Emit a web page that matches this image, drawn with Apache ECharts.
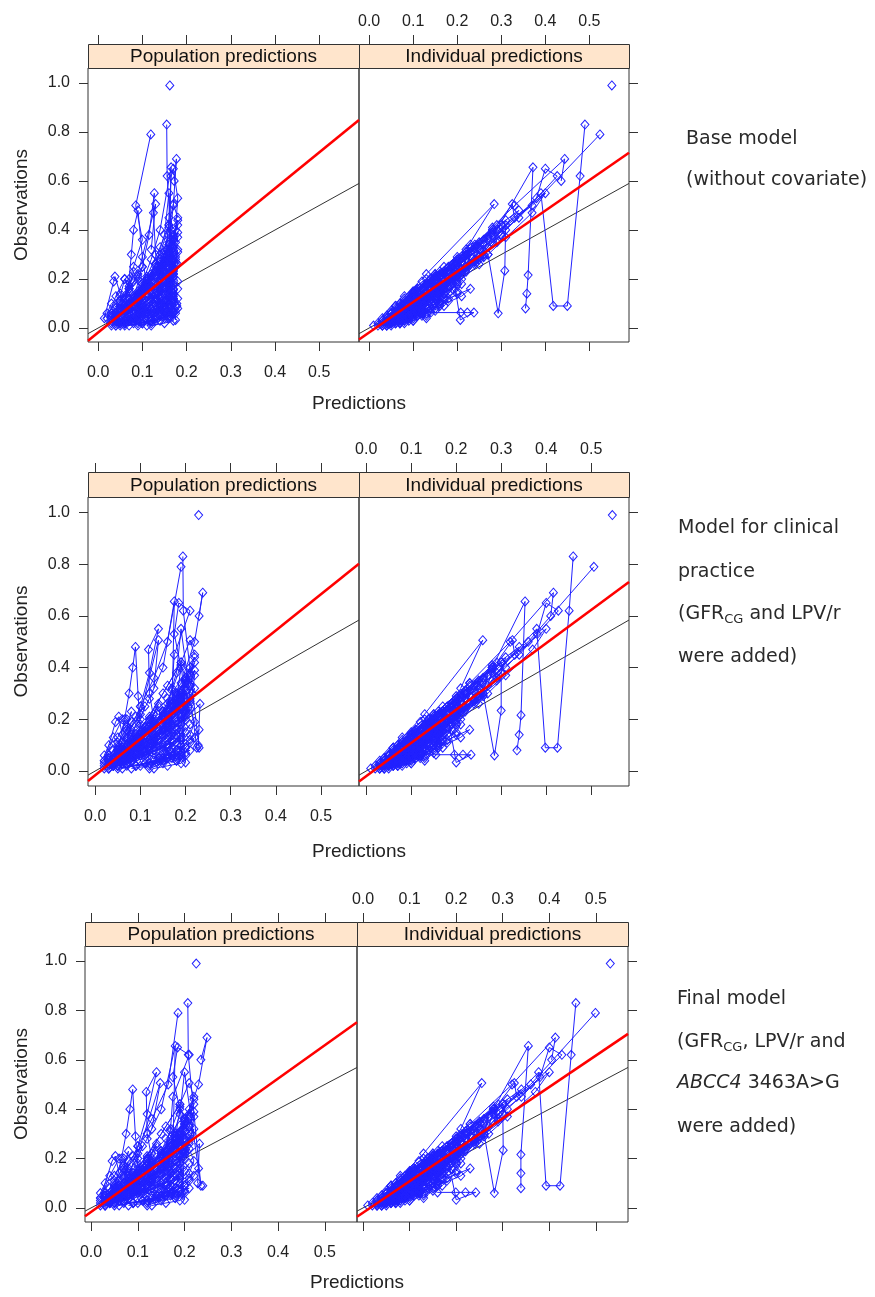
<!DOCTYPE html>
<html><head><meta charset="utf-8">
<script src="https://cdn.jsdelivr.net/npm/echarts@6/dist/echarts.min.js"></script>
<style>html,body{margin:0;padding:0;background:#fff}#c{width:875px;height:1297px}</style>
</head><body><div id="c"></div>
<script>
// ---------------- DATA ----------------
const PANEL_TITLES = ['Population predictions', 'Individual predictions'];
const X_TICKS = [0, 0.1, 0.2, 0.3, 0.4, 0.5];
const Y_TICKS = [0, 0.2, 0.4, 0.6, 0.8, 1.0];
const X_TITLE = 'Predictions';
const Y_TITLE = 'Observations';

// Observations per subject (shared by all models); featured subjects
const FEAT_OBS = [
  [0.99],
  [0.16,0.26,0.38,0.55,0.09,0.09,0.62,0.83],
  [0.13,0.25,0.36,0.50,0.79],
  [0.12,0.22,0.34,0.50,0.69,0.60],
  [0.14,0.28,0.40,0.656,0.216,0.14,0.08],
  [0.09,0.22,0.506,0.32],
  [0.07,0.16,0.30,0.42,0.234,0.06,0.30],
  [0.06,0.12,0.063,0.063,0.063,0.063,0.033,0.22]
];
const FEAT_IPRED_BASE = [
  [0.551],
  [0.12,0.20,0.30,0.39,0.418,0.45,0.479,0.49],
  [0.10,0.18,0.27,0.37,0.524],
  [0.08,0.15,0.24,0.33,0.444,0.436],
  [0.10,0.20,0.29,0.372,0.361,0.358,0.355],
  [0.06,0.13,0.284,0.22],
  [0.05,0.12,0.22,0.31,0.308,0.293,0.27],
  [0.05,0.10,0.14,0.208,0.223,0.238,0.207,0.19]
];
const FEAT_IPRED_CLIN = [
  [0.547],
  [0.12,0.20,0.29,0.379,0.398,0.425,0.451,0.46],
  [0.10,0.18,0.26,0.36,0.506],
  [0.08,0.15,0.23,0.32,0.416,0.41],
  [0.10,0.20,0.28,0.353,0.344,0.34,0.335],
  [0.06,0.13,0.259,0.21],
  [0.05,0.12,0.21,0.30,0.300,0.285,0.26],
  [0.05,0.10,0.155,0.196,0.215,0.233,0.20,0.18]
];
const FEAT_IPRED_FINAL = [
  [0.531],
  [0.12,0.20,0.29,0.377,0.393,0.423,0.447,0.457],
  [0.10,0.18,0.26,0.36,0.499],
  [0.08,0.15,0.23,0.32,0.413,0.405],
  [0.10,0.20,0.28,0.355,0.339,0.339,0.339],
  [0.06,0.13,0.255,0.21],
  [0.05,0.12,0.21,0.30,0.301,0.282,0.26],
  [0.05,0.10,0.16,0.199,0.22,0.242,0.20,0.18]
];
const FEAT_PRED_BASE = [
  [0.162],
  [0.10,0.13,0.15,0.16,0.175,0.178,0.156,0.155],
  [0.06,0.08,0.10,0.085,0.119],
  [0.12,0.14,0.16,0.17,0.177,0.172],
  [0.09,0.12,0.14,0.165,0.16,0.158,0.155],
  [0.05,0.09,0.13,0.12],
  [0.06,0.10,0.14,0.16,0.17,0.165,0.16],
  [0.06,0.09,0.12,0.15,0.16,0.17,0.175,0.17]
];
const FEAT_PRED_CLIN = [
  [0.229],
  [0.12,0.16,0.18,0.19,0.225,0.23,0.195,0.194],
  [0.07,0.10,0.13,0.16,0.19],
  [0.10,0.15,0.19,0.22,0.238,0.23],
  [0.08,0.12,0.15,0.175,0.17,0.168,0.165],
  [0.05,0.10,0.14,0.13],
  [0.05,0.10,0.15,0.19,0.20,0.19,0.18],
  [0.05,0.09,0.13,0.16,0.18,0.19,0.20,0.19]
];
const FEAT_PRED_FINAL = [
  [0.225],
  [0.12,0.17,0.19,0.20,0.235,0.239,0.208,0.207],
  [0.07,0.10,0.13,0.165,0.186],
  [0.10,0.15,0.20,0.23,0.248,0.235],
  [0.08,0.12,0.15,0.18,0.175,0.17,0.168],
  [0.05,0.10,0.148,0.13],
  [0.05,0.10,0.15,0.19,0.20,0.195,0.185],
  [0.05,0.09,0.13,0.16,0.18,0.19,0.20,0.19]
];

// Bulk of subjects
const BULK_OBS = [
  [0.04,0.19,0.21,0.14,0.10,0.06],
  [0.08,0.20,0.30,0.40,0.48,0.29,0.17],
  [0.12,0.25,0.38,0.55,0.47,0.30,0.20],
  [0.18,0.32,0.45,0.62,0.65,0.53,0.40,0.28],
  [0.10,0.21,0.33,0.42,0.506,0.45],
  [0.12,0.20,0.26,0.10],
  [0.03,0.08,0.15,0.22,0.19,0.14,0.09,0.05],
  [0.02,0.06,0.10,0.12,0.11,0.08,0.05,0.02],
  [0.05,0.14,0.26,0.33,0.29,0.21,0.15,0.09],
  [0.01,0.03,0.07,0.09,0.08,0.06,0.03,0.01],
  [0.08,0.18,0.31,0.42,0.37,0.27,0.19,0.12],
  [0.04,0.10,0.17,0.20,0.24,0.16,0.11,0.07,0.04],
  [0.12,0.21,0.29,0.36,0.44,0.38,0.30,0.23],
  [0.02,0.05,0.09,0.13,0.16,0.12,0.08,0.05,0.03],
  [0.06,0.13,0.21,0.27,0.23,0.17,0.12],
  [0.03,0.07,0.12,0.18,0.31,0.25,0.19,0.11,0.06],
  [0.01,0.02,0.04,0.06,0.05,0.03,0.02],
  [0.10,0.20,0.28,0.40,0.35,0.26,0.18,0.13],
  [0.04,0.09,0.14,0.19,0.17,0.13,0.10,0.07,0.05],
  [0.07,0.15,0.24,0.30,0.26,0.20,0.14,0.09],
  [0.02,0.04,0.08,0.11,0.14,0.10,0.06,0.03],
  [0.15,0.25,0.34,0.39,0.33,0.27,0.22],
  [0.03,0.06,0.11,0.16,0.21,0.18,0.12,0.08,0.05],
  [0.05,0.11,0.19,0.25,0.20,0.15,0.11,0.08],
  [0.01,0.03,0.05,0.08,0.07,0.04,0.02],
  [0.09,0.16,0.22,0.29,0.35,0.28,0.20,0.14,0.10],
  [0.03,0.08,0.13,0.10,0.07,0.04,0.02],
  [0.06,0.12,0.18,0.23,0.27,0.22,0.16,0.11,0.07],
  [0.02,0.05,0.11,0.17,0.14,0.09,0.06,0.03],
  [0.06,0.15,0.23,0.19,0.27,0.21,0.13,0.08,0.04],
  [0.01,0.02,0.05,0.04,0.07,0.05,0.03,0.02],
  [0.09,0.17,0.25,0.31,0.26,0.18,0.12,0.08],
  [0.03,0.10,0.13,0.09,0.12,0.08,0.05,0.02],
  [0.14,0.22,0.27,0.33,0.37,0.30,0.24,0.19,0.15],
  [0.02,0.04,0.06,0.10,0.08,0.05,0.03],
  [0.05,0.08,0.16,0.21,0.18,0.11,0.07,0.04],
  [0.11,0.19,0.26,0.34,0.29,0.23,0.17,0.12],
  [0.01,0.03,0.04,0.06,0.03,0.02,0.01],
  [0.04,0.13,0.20,0.16,0.23,0.17,0.10,0.06],
  [0.07,0.12,0.17,0.24,0.29,0.22,0.16,0.11,0.08],
  [0.02,0.06,0.09,0.14,0.11,0.07,0.04],
  [0.10,0.16,0.24,0.19,0.14,0.10,0.07,0.05],
  [0.03,0.07,0.12,0.20,0.25,0.19,0.13,0.08,0.05],
  [0.05,0.09,0.14,0.18,0.15,0.11,0.07],
  [0.16,0.23,0.31,0.41,0.36,0.28,0.20],
  [0.01,0.02,0.03,0.05,0.04,0.02,0.01],
  [0.08,0.14,0.19,0.26,0.22,0.17,0.12,0.09],
  [0.04,0.11,0.17,0.22,0.28,0.24,0.15,0.10,0.06],
  [0.02,0.07,0.05,0.09,0.13,0.10,0.06,0.03],
  [0.12,0.18,0.23,0.28,0.32,0.27,0.21,0.16],
  [0.03,0.06,0.10,0.15,0.12,0.08,0.05,0.03],
  [0.06,0.10,0.13,0.20,0.16,0.12,0.09,0.06],
  [0.03,0.05,0.08,0.11,0.09,0.06,0.04],
  [0.05,0.08,0.12,0.16,0.13,0.09,0.06]
];
const BULK_IPRED = [
  [0.04,0.12,0.16,0.13,0.11,0.09],
  [0.07,0.14,0.22,0.28,0.34,0.25,0.16],
  [0.10,0.19,0.28,0.40,0.37,0.27,0.19],
  [0.14,0.25,0.34,0.427,0.40,0.38,0.31,0.24],
  [0.07,0.15,0.23,0.29,0.325,0.33],
  [0.11,0.18,0.23,0.16],
  [0.05,0.09,0.11,0.16,0.18,0.15,0.11,0.08],
  [0.04,0.08,0.12,0.15,0.13,0.11,0.08,0.06],
  [0.04,0.10,0.19,0.25,0.26,0.20,0.15,0.10],
  [0.03,0.06,0.09,0.13,0.12,0.10,0.07,0.04],
  [0.08,0.13,0.22,0.30,0.31,0.24,0.18,0.13],
  [0.05,0.07,0.13,0.18,0.20,0.17,0.12,0.08,0.05],
  [0.11,0.16,0.21,0.26,0.31,0.30,0.26,0.21],
  [0.03,0.07,0.11,0.16,0.19,0.17,0.13,0.09,0.06],
  [0.05,0.09,0.15,0.20,0.21,0.17,0.13],
  [0.04,0.08,0.13,0.19,0.23,0.22,0.18,0.13,0.08],
  [0.04,0.07,0.10,0.12,0.11,0.08,0.05],
  [0.08,0.14,0.20,0.28,0.29,0.23,0.17,0.13],
  [0.03,0.06,0.10,0.14,0.15,0.13,0.11,0.08,0.06],
  [0.07,0.13,0.21,0.26,0.25,0.21,0.16,0.11],
  [0.02,0.05,0.09,0.14,0.17,0.15,0.11,0.07],
  [0.11,0.17,0.23,0.28,0.27,0.24,0.20],
  [0.03,0.05,0.08,0.12,0.16,0.16,0.13,0.09,0.06],
  [0.06,0.11,0.17,0.22,0.20,0.16,0.12,0.09],
  [0.02,0.04,0.07,0.10,0.11,0.09,0.06],
  [0.06,0.11,0.15,0.20,0.25,0.24,0.19,0.14,0.10],
  [0.04,0.09,0.14,0.14,0.11,0.08,0.05],
  [0.05,0.09,0.13,0.17,0.21,0.20,0.16,0.12,0.08],
  [0.05,0.09,0.13,0.18,0.20,0.16,0.12,0.08],
  [0.06,0.10,0.16,0.18,0.21,0.19,0.14,0.10,0.07],
  [0.05,0.08,0.11,0.13,0.15,0.13,0.10,0.07],
  [0.09,0.15,0.19,0.24,0.24,0.20,0.15,0.10],
  [0.05,0.08,0.12,0.12,0.14,0.11,0.08,0.05],
  [0.12,0.17,0.21,0.24,0.27,0.26,0.22,0.18,0.15],
  [0.06,0.09,0.12,0.16,0.15,0.12,0.09],
  [0.04,0.07,0.11,0.15,0.16,0.13,0.09,0.06],
  [0.10,0.15,0.20,0.26,0.26,0.22,0.17,0.13],
  [0.03,0.06,0.09,0.12,0.10,0.07,0.04],
  [0.04,0.08,0.13,0.15,0.17,0.16,0.11,0.07],
  [0.08,0.11,0.15,0.19,0.23,0.21,0.17,0.13,0.10],
  [0.04,0.08,0.12,0.16,0.16,0.12,0.08],
  [0.09,0.14,0.19,0.20,0.18,0.15,0.12,0.09],
  [0.03,0.06,0.10,0.15,0.19,0.18,0.14,0.10,0.06],
  [0.07,0.11,0.16,0.21,0.20,0.16,0.12],
  [0.12,0.17,0.22,0.28,0.29,0.25,0.19],
  [0.01,0.03,0.05,0.07,0.07,0.05,0.03],
  [0.06,0.10,0.14,0.19,0.20,0.17,0.13,0.10],
  [0.05,0.09,0.14,0.18,0.22,0.21,0.16,0.11,0.07],
  [0.04,0.07,0.09,0.12,0.15,0.14,0.10,0.06],
  [0.10,0.14,0.18,0.22,0.25,0.24,0.20,0.16],
  [0.05,0.08,0.12,0.17,0.16,0.12,0.09,0.06],
  [0.05,0.08,0.11,0.15,0.15,0.12,0.09,0.06],
  [0.07,0.10,0.14,0.18,0.17,0.13,0.09],
  [0.09,0.13,0.18,0.23,0.21,0.16,0.12]
];
const BULK_PRED_BASE = [
  [0.014,0.035,0.038,0.05,0.07,0.09],
  [0.06,0.07,0.075,0.08,0.09,0.10,0.11],
  [0.08,0.10,0.115,0.127,0.125,0.13,0.14],
  [0.14,0.155,0.16,0.165,0.17,0.18,0.175,0.17],
  [0.07,0.11,0.14,0.16,0.17,0.18],
  [0.13,0.16,0.175,0.178],
  [0.04,0.09,0.14,0.17,0.16,0.13,0.10,0.06],
  [0.05,0.11,0.16,0.18,0.17,0.14,0.10,0.06],
  [0.04,0.10,0.15,0.17,0.16,0.13,0.09,0.06],
  [0.04,0.09,0.14,0.16,0.15,0.12,0.08,0.05],
  [0.05,0.11,0.16,0.18,0.17,0.14,0.11,0.07],
  [0.03,0.07,0.12,0.15,0.17,0.14,0.10,0.07,0.04],
  [0.09,0.13,0.15,0.17,0.18,0.17,0.15,0.13],
  [0.06,0.10,0.14,0.16,0.17,0.15,0.12,0.09,0.06],
  [0.04,0.08,0.12,0.15,0.14,0.11,0.08],
  [0.05,0.09,0.13,0.16,0.18,0.17,0.15,0.11,0.07],
  [0.06,0.10,0.15,0.17,0.16,0.12,0.08],
  [0.07,0.11,0.14,0.165,0.16,0.14,0.11,0.08],
  [0.03,0.06,0.09,0.12,0.11,0.09,0.07,0.05,0.04],
  [0.06,0.10,0.14,0.16,0.15,0.12,0.09,0.07],
  [0.04,0.08,0.12,0.15,0.17,0.14,0.10,0.06],
  [0.10,0.14,0.17,0.18,0.17,0.15,0.13],
  [0.05,0.08,0.12,0.15,0.17,0.16,0.13,0.10,0.07],
  [0.03,0.05,0.08,0.10,0.09,0.07,0.05,0.04],
  [0.07,0.12,0.16,0.18,0.17,0.13,0.09],
  [0.08,0.11,0.14,0.16,0.175,0.16,0.14,0.11,0.09],
  [0.03,0.06,0.09,0.08,0.06,0.04,0.03],
  [0.04,0.07,0.10,0.13,0.15,0.14,0.12,0.09,0.06],
  [0.05,0.09,0.13,0.16,0.17,0.15,0.11,0.07],
  [0.08,0.12,0.15,0.16,0.17,0.165,0.14,0.11,0.08],
  [0.09,0.12,0.15,0.16,0.175,0.16,0.13,0.10],
  [0.11,0.14,0.16,0.17,0.18,0.16,0.14,0.12],
  [0.04,0.08,0.11,0.13,0.14,0.12,0.09,0.06],
  [0.13,0.15,0.16,0.17,0.18,0.175,0.16,0.15,0.14],
  [0.10,0.13,0.15,0.17,0.16,0.14,0.12],
  [0.03,0.05,0.07,0.09,0.10,0.08,0.06,0.04],
  [0.12,0.14,0.15,0.16,0.155,0.15,0.14,0.13],
  [0.11,0.14,0.16,0.175,0.17,0.15,0.12],
  [0.02,0.04,0.06,0.07,0.08,0.07,0.05,0.03],
  [0.10,0.13,0.15,0.165,0.175,0.17,0.15,0.13,0.11],
  [0.05,0.08,0.10,0.12,0.13,0.11,0.08],
  [0.14,0.16,0.17,0.18,0.17,0.16,0.15,0.14],
  [0.04,0.06,0.09,0.11,0.13,0.12,0.10,0.07,0.05],
  [0.12,0.14,0.16,0.17,0.165,0.15,0.13],
  [0.11,0.13,0.15,0.16,0.17,0.16,0.14],
  [0.03,0.05,0.07,0.09,0.08,0.06,0.04],
  [0.07,0.09,0.11,0.13,0.12,0.10,0.08,0.07],
  [0.06,0.09,0.12,0.15,0.17,0.16,0.13,0.10,0.07],
  [0.06,0.10,0.13,0.15,0.16,0.14,0.10,0.07],
  [0.15,0.16,0.17,0.175,0.18,0.175,0.17,0.16],
  [0.07,0.11,0.14,0.16,0.17,0.14,0.11,0.08],
  [0.02,0.03,0.05,0.06,0.07,0.06,0.04,0.03],
  [0.10,0.13,0.15,0.17,0.16,0.14,0.12],
  [0.12,0.15,0.17,0.18,0.17,0.16,0.14]
];
// covariate models (clinical practice & final) give near-identical population predictions for the bulk
const BULK_PRED_COV = [
  [0.02,0.045,0.052,0.06,0.08,0.10],
  [0.05,0.065,0.075,0.083,0.089,0.095,0.10],
  [0.08,0.10,0.12,0.14,0.118,0.12,0.13],
  [0.15,0.17,0.175,0.21,0.185,0.175,0.19,0.18],
  [0.07,0.12,0.16,0.19,0.21,0.22],
  [0.17,0.20,0.232,0.228],
  [0.03,0.08,0.15,0.20,0.18,0.14,0.10,0.05],
  [0.04,0.09,0.15,0.19,0.17,0.13,0.09,0.05],
  [0.04,0.11,0.17,0.21,0.19,0.15,0.10,0.06],
  [0.03,0.07,0.11,0.13,0.12,0.09,0.06,0.03],
  [0.06,0.13,0.19,0.22,0.21,0.17,0.13,0.08],
  [0.03,0.07,0.12,0.16,0.19,0.15,0.10,0.07,0.04],
  [0.10,0.15,0.18,0.20,0.22,0.21,0.18,0.15],
  [0.04,0.07,0.10,0.13,0.15,0.12,0.09,0.06,0.04],
  [0.05,0.10,0.15,0.19,0.17,0.13,0.09],
  [0.04,0.08,0.12,0.16,0.20,0.19,0.16,0.11,0.06],
  [0.05,0.09,0.15,0.18,0.17,0.12,0.07],
  [0.08,0.12,0.16,0.21,0.20,0.17,0.13,0.10],
  [0.03,0.06,0.09,0.12,0.11,0.09,0.07,0.05,0.03],
  [0.06,0.11,0.16,0.19,0.18,0.15,0.11,0.08],
  [0.03,0.06,0.10,0.13,0.16,0.12,0.08,0.05],
  [0.12,0.17,0.21,0.22,0.21,0.19,0.16],
  [0.04,0.07,0.11,0.15,0.19,0.17,0.13,0.09,0.06],
  [0.03,0.05,0.08,0.11,0.10,0.08,0.06,0.04],
  [0.06,0.11,0.16,0.21,0.19,0.14,0.09],
  [0.09,0.12,0.15,0.18,0.20,0.19,0.16,0.13,0.10],
  [0.02,0.05,0.08,0.07,0.05,0.04,0.02],
  [0.05,0.09,0.13,0.16,0.19,0.17,0.14,0.11,0.07],
  [0.04,0.08,0.13,0.17,0.18,0.15,0.11,0.06],
  [0.07,0.12,0.16,0.18,0.20,0.19,0.16,0.12,0.08],
  [0.08,0.12,0.16,0.18,0.20,0.18,0.14,0.10],
  [0.12,0.15,0.18,0.20,0.21,0.19,0.16,0.13],
  [0.03,0.07,0.10,0.12,0.14,0.12,0.08,0.05],
  [0.15,0.17,0.19,0.21,0.22,0.215,0.20,0.18,0.16],
  [0.09,0.13,0.16,0.19,0.18,0.15,0.12],
  [0.03,0.05,0.07,0.09,0.10,0.09,0.06,0.04],
  [0.13,0.16,0.18,0.20,0.195,0.18,0.16,0.14],
  [0.12,0.15,0.18,0.20,0.19,0.16,0.13],
  [0.02,0.04,0.06,0.07,0.08,0.07,0.05,0.03],
  [0.09,0.13,0.16,0.19,0.21,0.20,0.17,0.14,0.11],
  [0.04,0.07,0.10,0.12,0.13,0.11,0.07],
  [0.16,0.19,0.21,0.22,0.21,0.19,0.17,0.16],
  [0.04,0.06,0.09,0.12,0.14,0.13,0.10,0.07,0.05],
  [0.13,0.16,0.19,0.21,0.20,0.18,0.15],
  [0.12,0.15,0.17,0.19,0.20,0.19,0.16],
  [0.02,0.04,0.06,0.08,0.07,0.05,0.03],
  [0.08,0.10,0.12,0.14,0.13,0.11,0.09,0.08],
  [0.05,0.09,0.13,0.17,0.20,0.18,0.14,0.10,0.06],
  [0.05,0.10,0.14,0.17,0.19,0.16,0.11,0.07],
  [0.17,0.19,0.20,0.21,0.22,0.21,0.20,0.18],
  [0.06,0.10,0.14,0.17,0.19,0.15,0.11,0.07],
  [0.02,0.03,0.05,0.07,0.08,0.07,0.05,0.03],
  [0.11,0.15,0.18,0.21,0.20,0.17,0.14],
  [0.14,0.18,0.21,0.23,0.22,0.20,0.17]
];

// Fitted regression lines: [intercept, slope]
const REG_POP = [[-0.018, 1.47], [-0.016, 1.40], [-0.016, 1.35]];
const REG_IND = [[-0.018, 1.243], [-0.020, 1.286], [-0.019, 1.273]];

const MODEL_LABELS = [
  ['Base model', '(without covariate)'],
  ['Model for clinical', 'practice', '{a|(GFR}{s|CG}{a| and LPV/r}', 'were added)'],
  ['Final model', '{a|(GFR}{s|CG}{a|, LPV/r and}', '{i|ABCC4}{a| 3463A>G}', 'were added)']
];

// ---------------- LAYOUT ----------------
const ROWS = [
  {popLeft:88, popW:271, indLeft:359, indW:270, top:68,  h:274, stripH:24, xMin:-0.023, xMax:0.59,  yMin:-0.057, yMax:1.061, titleY:404,  labX:686, labY:[139,180]},
  {popLeft:88, popW:271, indLeft:359, indW:270, top:497, h:289, stripH:25, xMin:-0.016, xMax:0.584, yMin:-0.058, yMax:1.06,  titleY:852,  labX:678, labY:[528,572,614,657]},
  {popLeft:85, popW:272, indLeft:357, indW:271, top:946, h:276, stripH:24, xMin:-0.013, xMax:0.569, yMin:-0.057, yMax:1.061, titleY:1283, labX:677, labY:[999,1042,1083,1127]}
];
const MODELS = [
  {pred: FEAT_PRED_BASE.concat(BULK_PRED_BASE), ipred: FEAT_IPRED_BASE.concat(BULK_IPRED)},
  {pred: FEAT_PRED_CLIN.concat(BULK_PRED_COV),  ipred: FEAT_IPRED_CLIN.concat(BULK_IPRED)},
  {pred: FEAT_PRED_FINAL.concat(BULK_PRED_COV), ipred: FEAT_IPRED_FINAL.concat(BULK_IPRED)}
];
const OBS = FEAT_OBS.concat(BULK_OBS);

const FONT = '"Liberation Sans", Arial, sans-serif';
const TXT = '#222';
const BLUE = '#2222ff';

const grids = [], xAxes = [], yAxes = [], series = [], graphics = [];
const fmt = v => v.toFixed(1);

ROWS.forEach((R, r) => {
  [0, 1].forEach(p => {
    const gi = r * 2 + p;
    const left = p === 0 ? R.popLeft : R.indLeft;
    const width = p === 0 ? R.popW : R.indW;
    grids.push({left, top: R.top, width, height: R.h, show: true, borderColor: '#333', borderWidth: 1, backgroundColor: 'transparent', containLabel: false});
    const baseX = {
      gridIndex: gi, type: 'value', min: R.xMin, max: R.xMax,
      axisLine: {show: false, onZero: false}, splitLine: {show: false},
      axisTick: {show: true, customValues: X_TICKS, length: 9, lineStyle: {color: '#333'}},
    };
    xAxes.push(Object.assign({}, baseX, {position: 'bottom',
      axisLabel: {show: p === 0, customValues: X_TICKS, formatter: fmt, margin: 23, fontSize: 16, color: TXT, fontFamily: FONT}}));
    xAxes.push(Object.assign({}, baseX, {position: 'top', offset: R.stripH,
      axisLabel: {show: p === 1, customValues: X_TICKS, formatter: fmt, margin: 14, fontSize: 16, color: TXT, fontFamily: FONT}}));
    yAxes.push({gridIndex: gi, type: 'value', min: R.yMin, max: R.yMax, position: p === 0 ? 'left' : 'right',
      axisLine: {show: false, onZero: false}, splitLine: {show: false},
      axisTick: {show: true, customValues: Y_TICKS, length: 9, lineStyle: {color: '#333'}},
      axisLabel: {show: p === 0, customValues: Y_TICKS, formatter: fmt, margin: 18, fontSize: 16, color: TXT, fontFamily: FONT}});

    // identity line
    series.push({type: 'line', xAxisIndex: gi * 2, yAxisIndex: gi, data: [[R.xMin, R.xMin], [R.xMax, R.xMax]],
      symbol: 'none', lineStyle: {color: '#333', width: 1}, z: 2, silent: true, clip: true});
    // subjects
    const M = MODELS[r];
    const xs = p === 0 ? M.pred : M.ipred;
    OBS.forEach((obs, s) => {
      series.push({type: 'line', xAxisIndex: gi * 2, yAxisIndex: gi,
        data: obs.map((o, k) => [xs[s][k], o]),
        symbol: 'diamond', symbolSize: [8, 9], showSymbol: true,
        lineStyle: {color: BLUE, width: 1},
        itemStyle: {color: 'rgba(0,0,0,0)', borderColor: BLUE, borderWidth: 1},
        z: 3, silent: true, clip: true});
    });
    // regression line
    const c = p === 0 ? REG_POP[r] : REG_IND[r];
    series.push({type: 'line', xAxisIndex: gi * 2, yAxisIndex: gi,
      data: [[R.xMin, c[0] + c[1] * R.xMin], [R.xMax, c[0] + c[1] * R.xMax]],
      symbol: 'none', lineStyle: {color: '#ff0000', width: 2.6}, z: 5, silent: true, clip: true});

    // strip
    graphics.push({type: 'rect', shape: {x: left + 0.5, y: R.top - R.stripH + 0.5, width: width, height: R.stripH},
      style: {fill: '#ffe5cc', stroke: '#333', lineWidth: 1}, z: 10});
    graphics.push({type: 'text', x: left + width / 2, y: R.top - R.stripH / 2 + 1,
      style: {text: PANEL_TITLES[p], font: '19px ' + FONT, fill: '#111', align: 'center', verticalAlign: 'middle'}, z: 11});
  });
  // axis titles
  graphics.push({type: 'text', x: R.indLeft, y: R.titleY,
    style: {text: X_TITLE, font: '19px ' + FONT, fill: TXT, align: 'center', verticalAlign: 'middle'}, z: 11});
  graphics.push({type: 'text', x: 22, y: R.top + R.h / 2, rotation: Math.PI / 2,
    style: {text: Y_TITLE, font: '19px ' + FONT, fill: TXT, align: 'center', verticalAlign: 'middle'}, z: 11});
  // model description
  MODEL_LABELS[r].forEach((t, k) => {
    graphics.push({type: 'text', x: R.labX, y: R.labY[k],
      style: {text: t, fontFamily: '"DejaVu Sans", sans-serif', fontSize: 19, fill: '#2a2a2a', align: 'left', verticalAlign: 'middle',
        rich: {
          a: {fontFamily: '"DejaVu Sans", sans-serif', fontSize: 19, color: '#2a2a2a', lineHeight: 24, verticalAlign: 'middle'},
          s: {fontFamily: '"DejaVu Sans", sans-serif', fontSize: 13, color: '#2a2a2a', lineHeight: 13, verticalAlign: 'bottom', padding: [9, 0, 0, 0]},
          i: {fontFamily: '"DejaVu Sans", sans-serif', fontSize: 19, fontStyle: 'italic', color: '#2a2a2a', lineHeight: 24, verticalAlign: 'middle'}
        }}, z: 11});
  });
});

const chart = echarts.init(document.getElementById('c'), null, {renderer: 'canvas'});
chart.setOption({
  animation: false,
  backgroundColor: '#fff',
  grid: grids, xAxis: xAxes, yAxis: yAxes, series: series, graphic: {elements: graphics}
});
</script>
</body></html>
